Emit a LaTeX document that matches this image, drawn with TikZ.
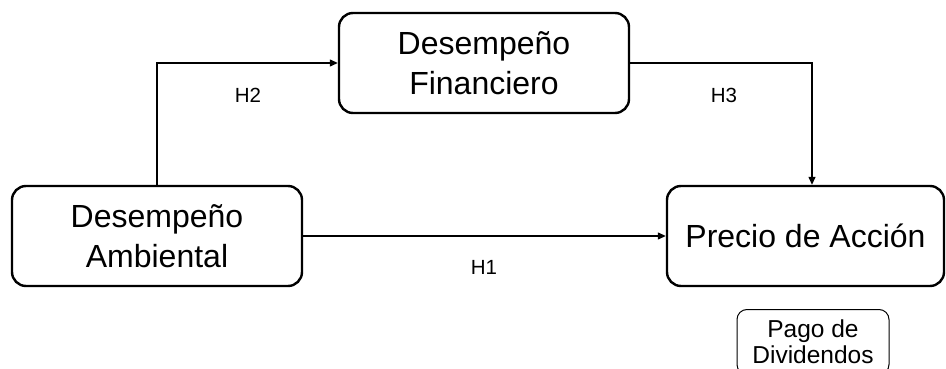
\documentclass[tikz,border=0pt]{standalone}
\usepackage{fontspec}
\setmainfont{Liberation Sans}
\usetikzlibrary{arrows.meta,calc}
\begin{document}
\begin{tikzpicture}[x=1pt,y=-1pt,
  mainbox/.style={draw=black, line width=2.4pt, rounded corners=14pt, inner sep=0pt,
    minimum height=100pt, align=center, font=\fontsize{32}{40}\selectfont},
  smallbox/.style={draw=black, line width=1pt, rounded corners=10pt, inner xsep=0pt,
    inner ysep=10.5pt, minimum width=152pt, align=center, font=\fontsize{24.5}{26}\selectfont},
  conn/.style={draw=black, line width=1.3pt, -{Triangle[length=8pt,width=7pt]}},
  hlabel/.style={font=\fontsize{20.5}{24}\selectfont, inner sep=0pt}]
\useasboundingbox (0,0) rectangle (946,369);
\node[mainbox, minimum width=290pt] (amb) at (157,236) {Desempeño\\Ambiental};
\node[mainbox, minimum width=290pt] (fin) at (484,63) {Desempeño\\Financiero};
\node[mainbox, minimum width=277pt] (pre) at (805.5,236) {Precio de Acción};
\node[smallbox, anchor=north] (pago) at (813,309) {Pago de\\Dividendos};
\coordinate (preTop) at ($(pre.north)+(6.5,0)$);
\draw[conn] (amb.north) |- (fin.west);
\draw[conn] (fin.east) -| (preTop);
\draw[conn] (amb.east) -- (pre.west);
\node[hlabel] (h2) at (248,95) {H2};
\node[hlabel] (h3) at (724,95) {H3};
\node[hlabel] (h1) at (484,267) {H1};
\end{tikzpicture}
\end{document}
